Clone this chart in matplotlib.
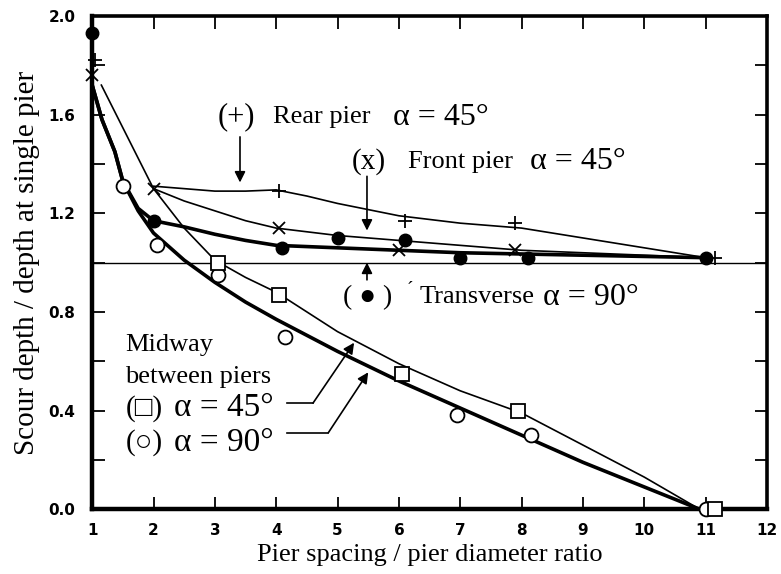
import numpy as np
import matplotlib
matplotlib.use('Agg')
from matplotlib import pyplot as plt
from matplotlib.ticker import MultipleLocator, FormatStrFormatter

# measured points
trans_x = [1.0, 2.0, 4.1, 5.0, 6.1, 7.0, 8.1, 11.0]
trans_y = [1.93, 1.17, 1.06, 1.10, 1.09, 1.02, 1.02, 1.02]
front_x = [1.0, 2.0, 4.05, 6.0, 7.9]
front_y = [1.76, 1.30, 1.14, 1.05, 1.05]
rear_x = [1.05, 4.05, 6.1, 7.9, 11.15]
rear_y = [1.82, 1.29, 1.17, 1.16, 1.02]
mid90_x = [1.5, 2.05, 3.05, 4.15, 6.95, 8.15, 11.0]
mid90_y = [1.31, 1.07, 0.95, 0.70, 0.38, 0.30, 0.0]
mid45_x = [3.05, 4.05, 6.05, 7.95, 11.15]
mid45_y = [1.0, 0.87, 0.55, 0.40, 0.0]

# hand drawn curves
c_trans_x = [1.0, 1.0, 1.16, 1.37, 1.5, 1.75, 2.0, 2.5, 3.0, 3.5, 4.0, 5.0, 6.0, 7.0, 8.0, 9.0, 10.0, 11.0]
c_trans_y = [1.93, 1.72, 1.58, 1.45, 1.33, 1.22, 1.17, 1.145, 1.115, 1.09, 1.07, 1.06, 1.05, 1.04, 1.035, 1.03, 1.025, 1.02]
c_mid90_x = [1.0, 1.16, 1.37, 1.5, 1.75, 2.0, 2.5, 3.0, 3.5, 4.0, 5.0, 6.0, 7.0, 8.0, 9.0, 10.0, 10.9]
c_mid90_y = [1.72, 1.58, 1.45, 1.33, 1.21, 1.12, 1.01, 0.92, 0.84, 0.77, 0.64, 0.52, 0.41, 0.30, 0.19, 0.09, 0.0]
c_mid45_x = [1.15, 2.0, 2.5, 3.0, 3.5, 4.0, 5.0, 6.0, 7.0, 8.0, 9.0, 10.0, 10.9]
c_mid45_y = [1.72, 1.30, 1.14, 1.01, 0.94, 0.88, 0.72, 0.59, 0.48, 0.39, 0.26, 0.13, 0.0]
c_front_x = [2.0, 2.5, 3.0, 3.5, 4.0, 5.0, 6.0, 7.0, 8.0, 9.0, 10.0, 11.0]
c_front_y = [1.30, 1.25, 1.21, 1.17, 1.14, 1.11, 1.09, 1.07, 1.05, 1.04, 1.03, 1.02]
c_rear_x = [2.0, 2.5, 3.0, 3.5, 4.0, 4.5, 5.0, 6.0, 7.0, 8.0, 9.0, 10.0, 11.0]
c_rear_y = [1.31, 1.30, 1.29, 1.29, 1.295, 1.27, 1.24, 1.19, 1.16, 1.14, 1.10, 1.06, 1.02]

serif = ['Liberation Serif', 'DejaVu Serif', 'DejaVu Sans']

fig = plt.figure(figsize=(7.81, 5.74), dpi=100)
ax = fig.add_axes([0.118, 0.113, 0.864, 0.859])

ax.axhline(1.0, color='black', lw=1.0)

ax.plot(c_trans_x, c_trans_y, color='black', lw=2.6)
ax.plot(c_mid90_x, c_mid90_y, color='black', lw=2.6)
ax.plot(c_mid45_x, c_mid45_y, color='black', lw=1.2)
ax.plot(c_front_x, c_front_y, color='black', lw=1.2)
ax.plot(c_rear_x, c_rear_y, color='black', lw=1.2)

ax.plot(trans_x, trans_y, 'o', color='black', ms=9, clip_on=False, zorder=5)
ax.plot(front_x, front_y, 'x', color='black', ms=9, mew=1.3, clip_on=False, zorder=5)
ax.plot(rear_x, rear_y, '+', color='black', ms=10, mew=1.3, clip_on=False, zorder=5)
ax.plot(mid90_x, mid90_y, 'o', mfc='white', mec='black', ms=10, mew=1.3, clip_on=False, zorder=5)
ax.plot(mid45_x, mid45_y, 's', mfc='white', mec='black', ms=10, mew=1.3, clip_on=False, zorder=5)

# labels on the curves
ax.text(3.05, 1.59, '(+)', family=serif, fontsize=22, va='center')
ax.text(3.95, 1.59, 'Rear pier', family=serif, fontsize=19, va='center')
ax.text(5.9, 1.59, 'α = 45°', family=serif, fontsize=23, va='center')
ax.text(5.23, 1.41, '(x)', family=serif, fontsize=21, va='center')
ax.text(6.15, 1.41, 'Front pier', family=serif, fontsize=19, va='center')
ax.text(8.13, 1.41, 'α = 45°', family=serif, fontsize=23, va='center')
ax.text(5.09, 0.86, '( ● )', family=serif, fontsize=20, va='center')
ax.text(6.12, 0.89, '´', family=serif, fontsize=14, va='center')
ax.text(6.34, 0.86, 'Transverse', family=serif, fontsize=19, va='center')
ax.text(8.35, 0.86, 'α = 90°', family=serif, fontsize=23, va='center')

ax.text(1.54, 0.667, 'Midway', family=serif, fontsize=19, va='center')
ax.text(1.54, 0.537, 'between piers', family=serif, fontsize=19, va='center')
ax.text(1.54, 0.41, '(□)', family=serif, fontsize=21, va='center')
ax.text(2.34, 0.41, 'α = 45°', family=serif, fontsize=24, va='center')
ax.text(1.54, 0.27, '(○)', family=serif, fontsize=21, va='center')
ax.text(2.34, 0.27, 'α = 90°', family=serif, fontsize=24, va='center')

arr = dict(arrowstyle='-|>', color='black', lw=1.2, mutation_scale=16, shrinkA=0, shrinkB=0)
ax.annotate('', xy=(3.41, 1.325), xytext=(3.41, 1.51), arrowprops=arr)
ax.annotate('', xy=(5.48, 1.13), xytext=(5.48, 1.35), arrowprops=arr)
ax.annotate('', xy=(5.48, 1.0), xytext=(5.48, 0.93), arrowprops=arr)
ax.plot([4.18, 4.6], [0.43, 0.43], color='black', lw=1.2)
ax.annotate('', xy=(5.27, 0.675), xytext=(4.6, 0.43), arrowprops=arr)
ax.plot([4.18, 4.85], [0.31, 0.31], color='black', lw=1.2)
ax.annotate('', xy=(5.5, 0.555), xytext=(4.85, 0.31), arrowprops=arr)

ax.set_xlim(1, 12)
ax.set_ylim(0, 2.0)
ax.set_xticks(range(1, 13))
ax.yaxis.set_major_locator(MultipleLocator(0.4))
ax.yaxis.set_minor_locator(MultipleLocator(0.2))
ax.yaxis.set_major_formatter(FormatStrFormatter('%.1f'))
ax.tick_params(which='both', direction='in', top=True, right=True, width=1.3, length=9)
ax.tick_params(axis='x', pad=10, labelsize=11)
ax.tick_params(axis='y', pad=12, labelsize=11)
for lab in ax.get_xticklabels() + ax.get_yticklabels():
    lab.set_fontweight('bold')

for s in ['left', 'bottom']:
    ax.spines[s].set_linewidth(3.2)
for s in ['top', 'right']:
    ax.spines[s].set_linewidth(2.6)

ax.set_xlabel('Pier spacing / pier diameter ratio', family=serif, fontsize=19, labelpad=4)
ax.set_ylabel('Scour depth / depth at single pier', family=serif, fontsize=21, labelpad=6)

fig.savefig('out.png', dpi=100)
